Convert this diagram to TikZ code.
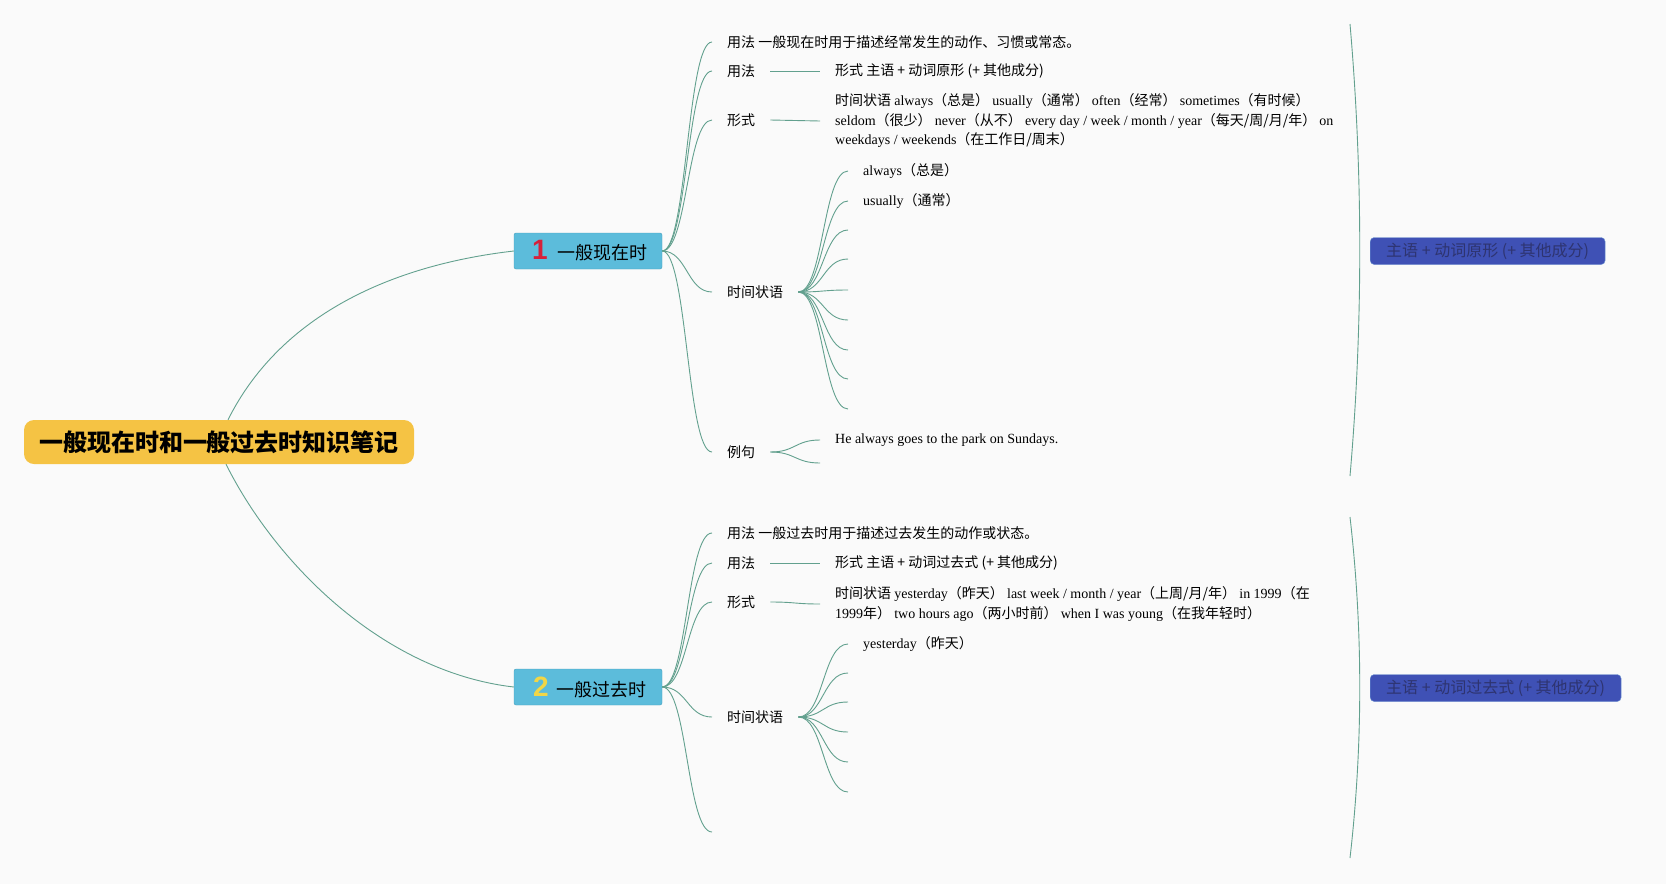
\documentclass[tikz,border=0pt]{standalone}
\usepackage{fontspec}
\setmainfont{Liberation Serif}
\newfontfamily\cjk{Noto Sans CJK SC}
\newfontfamily\numfont{Liberation Sans}
\usetikzlibrary{positioning}
\definecolor{bgc}{RGB}{250,250,250}
\definecolor{rootc}{RGB}{245,195,68}
\definecolor{topicc}{RGB}{92,188,219}
\definecolor{topicb}{RGB}{70,160,190}
\definecolor{linkc}{RGB}{98,160,142}
\definecolor{sumc}{RGB}{63,81,181}
\definecolor{sumb}{RGB}{110,150,210}
\definecolor{sumt}{RGB}{46,52,112}
\definecolor{onec}{RGB}{214,32,58}
\definecolor{twoc}{RGB}{242,214,70}
\newcommand{\en}[1]{{\rmfamily #1}}
\newcommand{\prio}[2]{{\numfont\bfseries\fontsize{28}{28}\selectfont\color{#1}#2}}

\begin{document}
\begin{tikzpicture}[x=1pt, y=-1pt,
  root/.style={fill=rootc, rounded corners=10pt, minimum width=390pt,
               minimum height=44pt, font=\cjk\bfseries\fontsize{24}{28}\selectfont},
  topic/.style={draw=topicb, fill=topicc, rounded corners=2pt, inner sep=0pt,
                minimum width=148pt, minimum height=36pt,
                font=\cjk\fontsize{18}{22}\selectfont},
  leaf/.style={anchor=west, inner xsep=15pt, inner ysep=2pt, align=left,
               font=\cjk\fontsize{14}{19.5}\selectfont},
  summary/.style={anchor=west, fill=sumc, draw=sumb, rounded corners=4pt,
                  minimum height=27pt, inner xsep=16pt, inner ysep=0pt,
                  text=sumt, font=\cjk\fontsize{16}{18}\selectfont},
  link/.style={draw=linkc, line width=0.9pt},
  branch/.style={link, to path={.. controls +(25,0) and +(-25,0) .. (\tikztotarget)}}
]

\fill[bgc] (0,0) rectangle (1666,884);
\useasboundingbox (0,0) rectangle (1666,884);

\node[root]  (root) at (219,442) {一般现在时和一般过去时知识笔记};
\node[topic] (pres) at (588,251) {\hspace{4pt}\prio{onec}{1}\hspace{10pt}一般现在时};
\node[topic] (past) at (588,687) {\hspace{4pt}\prio{twoc}{2}\hspace{8pt}一般过去时};

\draw[link] ([xshift=9pt]root.north) .. controls +(50,-100) and +(-130,15) .. (pres.west);
\draw[link] ([xshift=7pt]root.south) .. controls +(50,100) and +(-130,-15) .. (past.west);

% present tense
\node[leaf] (use1)  at (712,42)  {用法 一般现在时用于描述经常发生的动作、习惯或常态。};
\node[leaf] (use1b) at (712,71)  {用法};
\node[leaf] (form1) at (712,120) {形式};
\node[leaf] (time1) at (712,292) {时间状语};
\node[leaf] (exam1) at (712,452) {例句};
\node[leaf] (use1t)  at (820,71)  {形式 主语 + 动词原形 (+ 其他成分)};
\node[leaf] (form1t) at (820,121) {时间状语 \en{always}（总是） \en{usually}（通常） \en{often}（经常） \en{sometimes}（有时候）\\
  \en{seldom}（很少） \en{never}（从不） \en{every day / week / month / year}（每天/周/月/年） \en{on}\\
  \en{weekdays / weekends}（在工作日/周末）};
\node[leaf] (time1a) at (848,171) {\en{always}（总是）};
\node[leaf] (time1b) at (848,201) {\en{usually}（通常）};
\coordinate (time1c) at (848,230); \coordinate (time1d) at (848,259);
\coordinate (time1e) at (848,290); \coordinate (time1f) at (848,320);
\coordinate (time1g) at (848,350); \coordinate (time1h) at (848,379);
\coordinate (time1i) at (848,409);
\node[leaf] (exam1a) at (820,440) {\en{He always goes to the park on Sundays.}};
\coordinate (exam1b) at (820,463);

\draw[branch] (pres.east) to (use1.west);
\draw[branch] (pres.east) to (use1b.west);
\draw[branch] (pres.east) to (form1.west);
\draw[branch] (pres.east) to (time1.west);
\draw[branch] (pres.east) to (exam1.west);
\draw[branch] (use1b.east) to (use1t.west);
\draw[branch] (form1.east) to (form1t.west);
\draw[branch] (time1.east) to (time1a.west);
\draw[branch] (time1.east) to (time1b.west);
\draw[branch] (time1.east) to (time1c);
\draw[branch] (time1.east) to (time1d);
\draw[branch] (time1.east) to (time1e);
\draw[branch] (time1.east) to (time1f);
\draw[branch] (time1.east) to (time1g);
\draw[branch] (time1.east) to (time1h);
\draw[branch] (time1.east) to (time1i);
\draw[branch] (exam1.east) to (exam1a.west);
\draw[branch] (exam1.east) to (exam1b);

% past tense
\node[leaf] (use2)  at (712,533) {用法 一般过去时用于描述过去发生的动作或状态。};
\node[leaf] (use2b) at (712,563) {用法};
\node[leaf] (form2) at (712,602) {形式};
\node[leaf] (time2) at (712,717) {时间状语};
\coordinate (blank2) at (712,832);
\node[leaf] (use2t)  at (820,563) {形式 主语 + 动词过去式 (+ 其他成分)};
\node[leaf] (form2t) at (820,604) {时间状语 \en{yesterday}（昨天） \en{last week / month / year}（上周/月/年） \en{in 1999}（在\\
  \en{1999}年） \en{two hours ago}（两小时前） \en{when I was young}（在我年轻时）};
\node[leaf] (time2a) at (848,644) {\en{yesterday}（昨天）};
\coordinate (time2b) at (848,673); \coordinate (time2c) at (848,702);
\coordinate (time2d) at (848,732); \coordinate (time2e) at (848,762);
\coordinate (time2f) at (848,792);

\draw[branch] (past.east) to (use2.west);
\draw[branch] (past.east) to (use2b.west);
\draw[branch] (past.east) to (form2.west);
\draw[branch] (past.east) to (time2.west);
\draw[branch] (past.east) to (blank2);
\draw[branch] (use2b.east) to (use2t.west);
\draw[branch] (form2.east) to (form2t.west);
\draw[branch] (time2.east) to (time2a.west);
\draw[branch] (time2.east) to (time2b);
\draw[branch] (time2.east) to (time2c);
\draw[branch] (time2.east) to (time2d);
\draw[branch] (time2.east) to (time2e);
\draw[branch] (time2.east) to (time2f);

% summaries
\coordinate (brace1a) at (1350,24);
\coordinate (brace1b) at (1350,476);
\coordinate (brace2a) at (1350,517);
\coordinate (brace2b) at (1350,858);
\draw[link] (brace1a) .. controls +(13,150) and +(13,-150) .. (brace1b);
\draw[link] (brace2a) .. controls +(13,114) and +(13,-114) .. (brace2b);
\node[summary] (sum1) at (1370,251) {主语 + 动词原形 (+ 其他成分)};
\node[summary] (sum2) at (1370,688) {主语 + 动词过去式 (+ 其他成分)};

\end{tikzpicture}
\end{document}
